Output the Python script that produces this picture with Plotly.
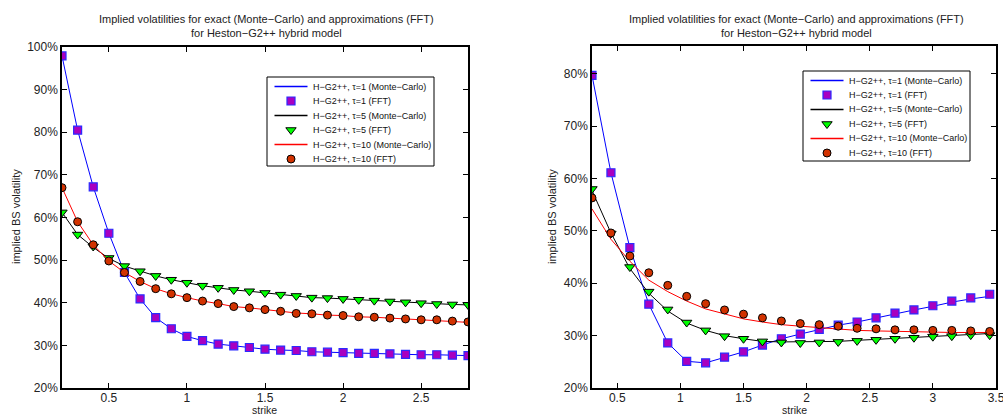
import plotly.graph_objects as go

# ---- strikes ----
strike_left = [0.2, 0.3, 0.4, 0.5, 0.6, 0.7, 0.8, 0.9, 1.0, 1.1, 1.2, 1.3, 1.4,
               1.5, 1.6, 1.7, 1.8, 1.9, 2.0, 2.1, 2.2, 2.3, 2.4, 2.5, 2.6, 2.7, 2.8]
strike_right = [0.3, 0.45, 0.6, 0.75, 0.9, 1.05, 1.2, 1.35, 1.5, 1.65, 1.8, 1.95,
                2.1, 2.25, 2.4, 2.55, 2.7, 2.85, 3.0, 3.15, 3.3, 3.45]

# ---- left panel: implied vols (%) ----
left_t1_mc = [97.9, 80.5, 67.2, 56.3, 47.1, 40.9, 36.5, 33.9, 32.1, 31.1, 30.3, 29.9, 29.5,
              29.1, 28.9, 28.8, 28.5, 28.4, 28.3, 28.1, 28.1, 28.0, 27.9, 27.8, 27.8, 27.7, 27.6]
left_t1_fft = [97.9, 80.5, 67.2, 56.3, 47.1, 40.9, 36.5, 33.9, 32.1, 31.1, 30.3, 29.9, 29.5,
               29.1, 28.9, 28.8, 28.5, 28.4, 28.3, 28.1, 28.1, 28.0, 27.9, 27.8, 27.8, 27.7, 27.6]
left_t5_mc = [61.2, 56.0, 53.0, 50.4, 48.6, 47.4, 46.3, 45.4, 44.7, 44.0, 43.5, 43.0, 42.7,
              42.3, 41.9, 41.6, 41.2, 41.1, 40.9, 40.7, 40.5, 40.3, 40.1, 39.9, 39.7, 39.6, 39.5]
left_t5_fft = [61.2, 56.0, 53.2, 50.5, 48.6, 47.4, 46.3, 45.4, 44.7, 44.0, 43.5, 43.0, 42.7,
               42.3, 41.9, 41.6, 41.2, 41.1, 40.9, 40.7, 40.5, 40.3, 40.1, 39.9, 39.7, 39.6, 39.5]
left_t10_mc = [67.0, 59.0, 53.6, 49.8, 47.1, 45.0, 43.3, 42.1, 41.2, 40.4, 39.8, 39.1, 38.8,
               38.4, 38.0, 37.6, 37.4, 37.1, 37.0, 36.7, 36.6, 36.4, 36.2, 36.0, 35.9, 35.7, 35.4]
left_t10_fft = [67.0, 59.0, 53.6, 49.8, 47.1, 45.0, 43.3, 42.1, 41.2, 40.4, 39.8, 39.1, 38.8,
                38.4, 38.0, 37.5, 37.4, 37.1, 37.0, 36.7, 36.6, 36.4, 36.2, 36.0, 36.0, 35.7, 35.5]

# ---- right panel: implied vols (%) ----
right_t1_mc = [79.7, 61.1, 46.8, 36.0, 28.6, 25.1, 24.8, 25.9, 26.9, 28.2, 29.4, 30.3,
               31.2, 32.0, 32.6, 33.4, 34.2, 34.9, 35.6, 36.4, 37.0, 37.5]
right_t1_fft = [79.7, 61.1, 46.8, 36.0, 28.6, 25.1, 24.8, 25.9, 26.9, 28.2, 29.4, 30.3,
                31.2, 32.0, 32.6, 33.4, 34.3, 34.9, 35.7, 36.6, 37.2, 37.9]
right_t5_mc = [57.7, 49.6, 42.8, 38.1, 34.7, 32.4, 31.0, 30.0, 29.4, 28.9, 28.8, 28.8,
               28.8, 28.9, 29.1, 29.3, 29.5, 29.7, 29.9, 30.1, 30.3, 30.4]
right_t5_fft = [58.0, 49.5, 43.1, 38.4, 35.0, 32.5, 31.0, 29.9, 29.4, 28.9, 28.7, 28.6,
                28.7, 28.8, 29.0, 29.2, 29.4, 29.6, 29.8, 29.9, 30.1, 30.1]
right_t10_mc = [54.2, 48.4, 44.2, 40.6, 38.4, 36.6, 35.1, 34.1, 33.2, 32.6, 32.1, 31.8,
                31.5, 31.2, 31.0, 30.9, 30.8, 30.7, 30.6, 30.6, 30.6, 30.6]
right_t10_fft = [56.3, 49.6, 45.2, 42.0, 39.6, 37.5, 36.1, 34.9, 34.1, 33.4, 32.8, 32.3,
                 32.1, 31.8, 31.4, 31.3, 31.1, 31.1, 31.0, 31.0, 30.9, 30.8]

series_names = ["H\u2212G2++, \u03c4=1 (Monte\u2212Carlo)", "H\u2212G2++, \u03c4=1 (FFT)",
                "H\u2212G2++, \u03c4=5 (Monte\u2212Carlo)", "H\u2212G2++, \u03c4=5 (FFT)",
                "H\u2212G2++, \u03c4=10 (Monte\u2212Carlo)", "H\u2212G2++, \u03c4=10 (FFT)"]

title_text = ("Implied volatilities for exact (Monte\u2212Carlo) and approximations (FFT)"
              "<br>for Heston\u2212G2++ hybrid model")

FONT = "Liberation Sans, Arial, Helvetica, sans-serif"
W, H = 1003, 417

BLUE, BLACK, RED = "#0000ff", "#000000", "#ff0000"
SQ_FILL, TRI_FILL, CIRC_FILL = "#a800c0", "#00ff00", "#d23200"

# style of every series: (kind, style dict)
STYLES = [
    ("line", dict(color=BLUE, width=1)),
    ("marker", dict(symbol="square", size=8, color=SQ_FILL,
                    line=dict(color="#2a2aff", width=1.2))),
    ("line", dict(color=BLACK, width=1)),
    ("marker", dict(symbol="triangle-down", size=9, color=TRI_FILL,
                    line=dict(color=BLACK, width=1))),
    ("line", dict(color=RED, width=1)),
    ("marker", dict(symbol="circle", size=8, color=CIRC_FILL,
                    line=dict(color=BLACK, width=1))),
]

fig = go.Figure()


def add_panel(x, values, xa, ya):
    for name, yv, (kind, style) in zip(series_names, values, STYLES):
        if kind == "line":
            fig.add_trace(go.Scatter(x=x, y=yv, name=name, xaxis=xa, yaxis=ya,
                                     mode="lines", line=style, showlegend=False))
        else:
            fig.add_trace(go.Scatter(x=x, y=yv, name=name, xaxis=xa, yaxis=ya,
                                     mode="markers", marker=style, showlegend=False))


add_panel(strike_left, [left_t1_mc, left_t1_fft, left_t5_mc, left_t5_fft,
                        left_t10_mc, left_t10_fft], "x", "y")
add_panel(strike_right, [right_t1_mc, right_t1_fft, right_t5_mc, right_t5_fft,
                         right_t10_mc, right_t10_fft], "x2", "y2")


def px_x(p):
    return p / W


def px_y(p):
    return 1 - p / H


# ---- boxed legends (drawn in page pixels on a hidden full-page axis pair) ----
shapes = []
annotations = []
legend_boxes = [(267, 77, 434, 166), (803, 71, 970, 161)]
ROW_GAP = 14.5
for (bx0, by0, bx1, by1) in legend_boxes:
    shapes.append(dict(type="rect", xref="paper", yref="paper",
                       x0=px_x(bx0), x1=px_x(bx1), y0=px_y(by1), y1=px_y(by0),
                       line=dict(color="black", width=1), fillcolor="white", layer="below"))
    for i, (name, (kind, style)) in enumerate(zip(series_names, STYLES)):
        cy = by0 + 9.5 + i * ROW_GAP
        if kind == "line":
            lw = style["width"]
            shapes.append(dict(type="line", xref="paper", yref="paper",
                               x0=px_x(bx0 + 7.5), x1=px_x(bx0 + 40.5),
                               y0=px_y(cy), y1=px_y(cy),
                               line=dict(color=style["color"], width=lw + 0.6)))
        else:
            fig.add_trace(go.Scatter(x=[bx0 + 24], y=[cy], xaxis="x3", yaxis="y3",
                                     mode="markers", marker=style, showlegend=False,
                                     hoverinfo="skip"))
        annotations.append(dict(text=name, x=px_x(bx0 + 44), y=px_y(cy),
                                xref="paper", yref="paper", xanchor="left", yanchor="middle",
                                showarrow=False,
                                font=dict(family=FONT, size=9, color="#111111")))

axis_common = dict(showline=True, linecolor="black", linewidth=1.5, mirror="ticks",
                   ticks="inside", ticklen=5, tickwidth=1, tickcolor="black",
                   showgrid=False, zeroline=False, automargin=False,
                   ticklabeloverflow="allow",
                   tickfont=dict(family=FONT, size=12, color="#222222"))

left_xticks = [0.5, 1.0, 1.5, 2.0, 2.5]
left_xlabels = ["0.5", "1", "1.5", "2", "2.5"]
right_xticks = [0.5, 1.0, 1.5, 2.0, 2.5, 3.0, 3.5]
right_xlabels = ["0.5", "1", "1.5", "2", "2.5", "3", "3.5"]
left_yticks = [20, 30, 40, 50, 60, 70, 80, 90, 100]
right_yticks = [20, 30, 40, 50, 60, 70, 80]

fig.update_layout(
    width=W, height=H,
    margin=dict(l=0, r=0, t=0, b=0),
    paper_bgcolor="white", plot_bgcolor="rgba(0,0,0,0)",
    font=dict(family=FONT, color="#222222"),
    showlegend=False,
    xaxis=dict(domain=[px_x(62), px_x(468)], range=[0.2, 2.8], anchor="y",
               tickvals=left_xticks, ticktext=left_xlabels, ticklabelstandoff=-2,
               **axis_common),
    yaxis=dict(domain=[px_y(388), px_y(47)], range=[20, 100], anchor="x",
               tickvals=left_yticks, ticktext=[f"{v}%" for v in left_yticks], **axis_common),
    xaxis2=dict(domain=[px_x(592), px_x(996)], range=[0.3, 3.5], anchor="y2",
                tickvals=right_xticks, ticktext=right_xlabels, ticklabelstandoff=-2,
                **axis_common),
    yaxis2=dict(domain=[px_y(388), px_y(46)], range=[20, 85.3], anchor="x2",
                tickvals=right_yticks, ticktext=[f"{v}%" for v in right_yticks], **axis_common),
    xaxis3=dict(domain=[0, 1], range=[0, W], anchor="y3", visible=False, fixedrange=True),
    yaxis3=dict(domain=[0, 1], range=[H, 0], anchor="x3", visible=False, fixedrange=True),
)

for cx in (266, 796):
    annotations.append(dict(text=title_text, x=px_x(cx), y=px_y(26), xref="paper", yref="paper",
                            xanchor="center", yanchor="middle", showarrow=False,
                            font=dict(family=FONT, size=11, color="#222222")))
for cx in (16, 552):
    annotations.append(dict(text="implied BS volatility", x=px_x(cx), y=px_y(217),
                            xref="paper", yref="paper", textangle=-90, showarrow=False,
                            xanchor="center", yanchor="middle",
                            font=dict(family=FONT, size=11, color="#222222")))
for cx in (264, 794):
    annotations.append(dict(text="strike", x=px_x(cx), y=0, xref="paper", yref="paper",
                            xanchor="center", yanchor="bottom", showarrow=False, borderpad=0,
                            font=dict(family=FONT, size=10.5, color="#222222")))
fig.update_layout(annotations=annotations, shapes=shapes)

fig.write_html("out.html")
